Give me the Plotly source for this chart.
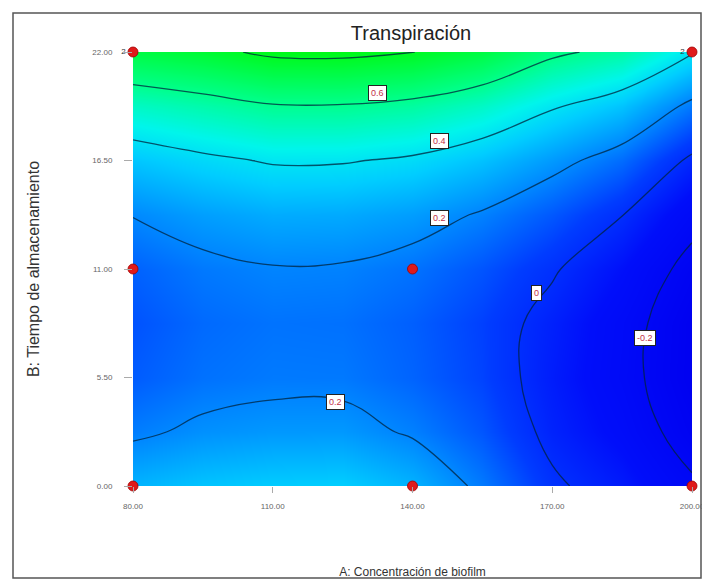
import plotly.graph_objects as go

# ---- data ----
conc = [80, 95, 110, 125, 140, 155, 170, 185, 200]          # A: Concentración de biofilm
tiempo = [0, 2.75, 5.5, 8.25, 11, 13.75, 16.5, 19.25, 22]    # B: Tiempo de almacenamiento
# Transpiración response (rows follow tiempo, columns follow conc)
z_t00 = [0.296, 0.332, 0.349, 0.354, 0.294, 0.175, 0.020, -0.060, -0.181]
z_t03 = [0.180, 0.221, 0.237, 0.238, 0.187, 0.102, -0.032, -0.122, -0.259]
z_t06 = [0.113, 0.157, 0.174, 0.172, 0.129, 0.064, -0.053, -0.155, -0.296]
z_t08 = [0.094, 0.141, 0.160, 0.156, 0.120, 0.058, -0.040, -0.147, -0.291]
z_t11 = [0.125, 0.172, 0.194, 0.190, 0.159, 0.099, 0.013, -0.094, -0.243]
z_t14 = [0.204, 0.250, 0.278, 0.274, 0.247, 0.189, 0.106, 0.003, -0.154]
z_t17 = [0.333, 0.376, 0.410, 0.408, 0.383, 0.325, 0.239, 0.144, -0.023]
z_t19 = [0.510, 0.550, 0.591, 0.592, 0.568, 0.509, 0.412, 0.330, 0.170]
z_t22 = [0.736, 0.770, 0.822, 0.826, 0.802, 0.741, 0.625, 0.561, 0.410]
z_grid = [z_t00, z_t03, z_t06, z_t08, z_t11, z_t14, z_t17, z_t19, z_t22]

design_x = [80, 200, 80, 140, 80, 140, 200]
design_y = [22, 22, 11, 11, 0, 0, 0]
design_txt = ["2", "2", "", "", "", "", ""]

x_ticks = [80, 110, 140, 170, 200]
x_ticklabels = ["80.00", "110.00", "140.00", "170.00", "200.00"]
y_ticks = [0, 5.5, 11, 16.5, 22]
y_ticklabels = ["0.00", "5.50", "11.00", "16.50", "22.00"]

label_txt = ["0.6", "0.4", "0.2", "0", "-0.2", "0.2"]
label_x = [132.4, 145.9, 145.9, 166.7, 189.9, 123.4]
label_y = [19.92, 17.49, 13.58, 9.78, 7.5, 4.26]

zmin, zmax = -0.3, 0.83
colorscale = [
    [0.0, "rgb(0,0,240)"],
    [0.177, "rgb(0,14,250)"],
    [0.31, "rgb(0,60,255)"],
    [0.4425, "rgb(0,135,255)"],
    [0.575, "rgb(0,205,255)"],
    [0.664, "rgb(0,245,235)"],
    [0.796, "rgb(0,255,140)"],
    [1.0, "rgb(0,250,20)"],
]

fig = go.Figure()
fig.add_trace(go.Contour(
    x=conc, y=tiempo, z=z_grid,
    zmin=zmin, zmax=zmax, colorscale=colorscale, showscale=False,
    contours=dict(start=-0.2, end=0.8, size=0.2, coloring="heatmap", showlabels=False),
    line=dict(color="rgba(0,35,60,0.75)", width=1.3, smoothing=1.2),
    hoverinfo="skip",
))
fig.add_trace(go.Scatter(
    x=design_x, y=design_y, mode="markers+text", text=design_txt,
    textposition="middle left", textfont=dict(size=8, color="#333"),
    marker=dict(size=10, color="#e01a1a", line=dict(color="#a00000", width=0.8)),
    cliponaxis=False, showlegend=False, hoverinfo="skip",
))

for t, lx, ly in zip(label_txt, label_x, label_y):
    fig.add_annotation(x=lx, y=ly, text=t, showarrow=False,
                       font=dict(size=9, color="#c0304a", family="Liberation Sans"),
                       bgcolor="white", bordercolor="#222", borderwidth=1, borderpad=2)

# page body has an 8px margin: figure is sized to fit inside the window
OFF = 8
W, H = 700, 587 - 2 * OFF
L, T = 133 - OFF, 52 - OFF
R = W - (692 - OFF)
B = H - (486 - OFF)
pw, ph = W - L - R, H - T - B
def sx(px):   # screen px -> paper x
    return (px - OFF - L) / pw
def sy(py):   # screen py -> paper y
    return (H - B - (py - OFF)) / ph

fig.add_shape(type="rect", xref="paper", yref="paper",
              x0=sx(13), x1=sx(701), y0=sy(578), y1=sy(13),
              line=dict(color="#555", width=1.5), layer="below")

fig.update_layout(
    width=W, height=H, margin=dict(l=L, r=R, t=T, b=B, autoexpand=False),
    paper_bgcolor="white", plot_bgcolor="white",
    font=dict(family="Liberation Sans", color="#333"),
    title=dict(text="Transpiración", x=sx(411), xref="paper", xanchor="center",
               y=1 - (33 - OFF) / H, yanchor="middle", font=dict(size=20, color="#222")),
    xaxis=dict(range=[80, 200], tickvals=x_ticks, ticktext=x_ticklabels, ticks="outside",
               ticklen=6, tickcolor="#aaa", showgrid=False, zeroline=False, showline=False,
               automargin=False, ticklabeloverflow="allow",
               tickfont=dict(size=8, color="#666"), ticklabelstandoff=6,
               title=dict(text="A: Concentración de biofilm", font=dict(size=12, color="#333"),
                          standoff=58)),
    yaxis=dict(range=[0, 22], tickvals=y_ticks, ticktext=y_ticklabels, ticks="outside",
               ticklen=8, tickcolor="#aaa", showgrid=False, zeroline=False, showline=False,
               automargin=False,
               tickfont=dict(size=8, color="#666"), ticklabelstandoff=10,
               title=dict(text="B: Tiempo de almacenamiento", font=dict(size=16, color="#333"),
                          standoff=48)),
)

fig.write_html("out.html")
